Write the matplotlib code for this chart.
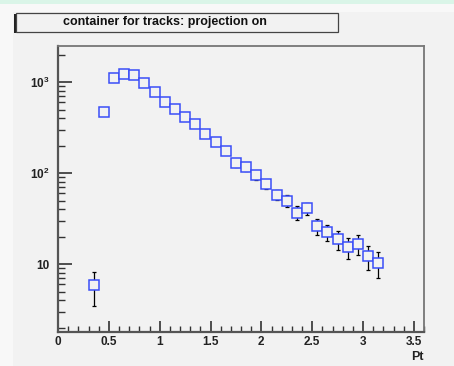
import matplotlib
matplotlib.use("Agg")
import matplotlib.pyplot as plt
from matplotlib.patches import Rectangle
from matplotlib.ticker import FixedLocator, FixedFormatter, NullFormatter
import numpy as np

plt.rcParams['font.family'] = ['Liberation Sans', 'DejaVu Sans']
plt.rcParams['mathtext.fontset'] = 'custom'
plt.rcParams['mathtext.rm'] = 'Liberation Sans:bold'
plt.rcParams['mathtext.bf'] = 'Liberation Sans:bold'

# ---- data ----
pt_centers = [0.35, 0.45, 0.55, 0.65, 0.75, 0.85, 0.95, 1.05, 1.15, 1.25,
              1.35, 1.45, 1.55, 1.65, 1.75, 1.85, 1.95, 2.05, 2.15, 2.25,
              2.35, 2.45, 2.55, 2.65, 2.75, 2.85, 2.95, 3.05, 3.15]
counts = [5.9, 468, 1107, 1224, 1193, 975, 776, 603, 505, 412,
          345, 268, 219, 175, 129, 116, 95, 76, 58, 50,
          37, 41, 26, 22.5, 18.8, 15.4, 16.6, 12.2, 10.3]
errors = [2.4, 21.6, 33, 35, 34.5, 31, 28, 24.5, 22.5, 20,
          18.6, 16.4, 14.8, 13.2, 11.4, 10.8, 9.7, 8.7, 7.6, 7.1,
          6.1, 6.4, 5.1, 4.7, 4.3, 3.9, 4.1, 3.5, 3.2]
x_major = [0, 0.5, 1, 1.5, 2, 2.5, 3, 3.5]
x_labels = ['0', '0.5', '1', '1.5', '2', '2.5', '3', '3.5']
y_major = [10, 100, 1000]
y_labels = ['10', r'$\mathbf{10^{2}}$', r'$\mathbf{10^{3}}$']
title = "container for tracks: projection on"
xlabel = "Pt"

W, H = 454, 366
bg = '#f2f2f2'
fig = plt.figure(figsize=(W / 100, H / 100), dpi=100, facecolor='#f8f8f8')

def fx(px):
    return px / W

def fy(py):
    return 1 - py / H

# background decorations
fig.patches.append(Rectangle((0, fy(4)), 1, 4 / H, transform=fig.transFigure,
                             facecolor='#daf5e8', edgecolor='none', zorder=-5))
fig.patches.append(Rectangle((fx(13), 0), 1 - fx(13), fy(12), transform=fig.transFigure,
                             facecolor=bg, edgecolor='none', zorder=-5))

# axes
ax = fig.add_axes([fx(58), fy(332), fx(424) - fx(58), fy(46) - fy(332)])
ax.set_zorder(1)
ax.set_facecolor(bg)
ax.set_yscale('log')
ax.set_xlim(0, 3.6)
ax.set_ylim(1.8, 2500)

ax.errorbar(pt_centers, counts, yerr=errors, fmt='none', ecolor='black',
            elinewidth=0.9, capsize=1.6, capthick=0.9, zorder=2)
ax.plot(pt_centers, counts, linestyle='none', marker='s', markersize=7.8,
        markerfacecolor=bg, markeredgecolor='#3b4ef8', markeredgewidth=1.1, zorder=3)

# ticks
ax.xaxis.set_major_locator(FixedLocator(x_major))
ax.xaxis.set_major_formatter(FixedFormatter(x_labels))
ax.xaxis.set_minor_locator(FixedLocator(np.arange(0, 3.61, 0.1)))
ax.yaxis.set_major_locator(FixedLocator(y_major))
ax.yaxis.set_major_formatter(FixedFormatter(y_labels))
minor_y = [m * d for d in (1, 10, 100, 1000) for m in range(2, 10) if 1.8 <= m * d <= 2500]
ax.yaxis.set_minor_locator(FixedLocator(minor_y))
ax.yaxis.set_minor_formatter(NullFormatter())

ax.tick_params(axis='both', which='both', direction='in', colors='#333333',
               top=False, right=False)
ax.tick_params(axis='x', which='major', length=8, width=1.2, pad=3, labelsize=8.5,
               labelcolor='#222222')
ax.tick_params(axis='x', which='minor', length=4, width=1.0)
ax.tick_params(axis='y', which='major', length=10, width=1.2, pad=6, labelsize=8.5,
               labelcolor='#222222')
ax.tick_params(axis='y', which='minor', length=5, width=1.0)
for lab in ax.get_xticklabels() + ax.get_yticklabels():
    lab.set_fontweight('bold')

for s in ('left', 'bottom'):
    ax.spines[s].set_color('#555555')
    ax.spines[s].set_linewidth(1.6)
for s in ('top', 'right'):
    ax.spines[s].set_color('#777777')
    ax.spines[s].set_linewidth(1.3)

fig.text(fx(424), fy(357), xlabel, ha='right', va='center', fontsize=9,
         fontweight='bold', color='#222222')

# title box with shadow
fig.patches.append(Rectangle((fx(14), fy(33)), fx(338) - fx(15), 19 / H,
                             transform=fig.transFigure, facecolor='#222222',
                             edgecolor='none', zorder=1))
fig.patches.append(Rectangle((fx(16), fy(32)), fx(338) - fx(16), 19 / H,
                             transform=fig.transFigure, facecolor=bg,
                             edgecolor='#444444', linewidth=0.9, zorder=2))
fig.text(fx(63), fy(22), title, ha='left', va='center', fontsize=9,
         fontweight='bold', color='#111111', zorder=3)

fig.savefig('out.png', dpi=100, facecolor=fig.get_facecolor())
